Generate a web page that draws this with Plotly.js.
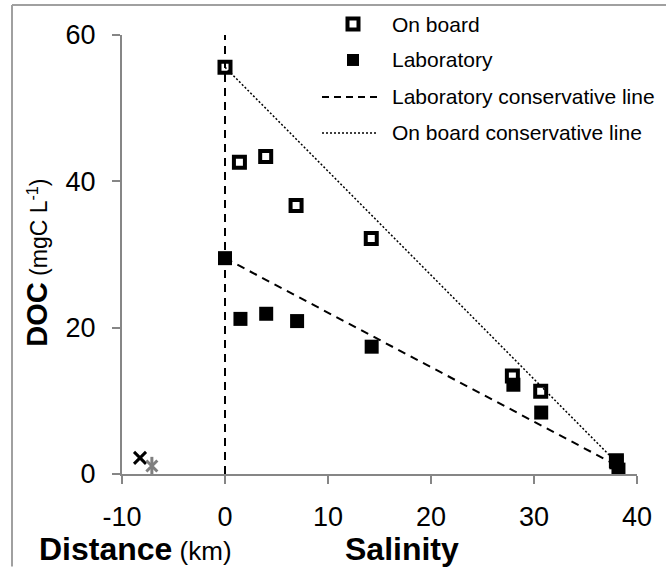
<!DOCTYPE html>
<html>
<head>
<meta charset="utf-8">
<script src="https://cdn.plot.ly/plotly-3.0.1.min.js"></script>
<style>
html,body{margin:0;padding:0;background:#fff;}
#chart{width:666px;height:567px;}
</style>
</head>
<body>
<div id="chart"></div>
<script>
// Data
var salinityOnBoard = [0, 1.4, 3.95, 6.9, 14.2, 27.9, 30.65, 38.0];
var docOnBoard      = [55.6, 42.6, 43.4, 36.7, 32.2, 13.4, 11.3, 1.8];
var salinityLab     = [0, 1.5, 4.0, 7.0, 14.24, 28.0, 30.7, 38.0, 38.2];
var docLab          = [29.5, 21.2, 21.9, 20.9, 17.4, 12.2, 8.4, 1.6, 0.6];
var labLineX = [0, 38];
var labLineY = [29.5, 1.2];
var onBoardLineX = [0, 38];
var onBoardLineY = [55.6, 1.6];
var zeroLineX = [0, 0];
var zeroLineY = [0, 60];
var distBlackX = [-8.25];
var distBlackY = [2.2];
var distGrayX = [-7.1];
var distGrayY = [1.1];
var xTicks = [-10, 0, 10, 20, 30, 40];
var yTicks = [0, 20, 40, 60];
var legendLabels = ["On board", "Laboratory", "Laboratory conservative line", "On board conservative line"];

var FONT = "Liberation Sans, Arial, sans-serif";
var AXIS_GRAY = "#868686";

var traces = [
  {x: zeroLineX, y: zeroLineY, mode: "lines", line: {color: "#000", width: 2, dash: "8px,6px"}, showlegend: false, hoverinfo: "skip"},
  {x: onBoardLineX, y: onBoardLineY, mode: "lines", line: {color: "#000", width: 1.5, dash: "2px,2px"}, showlegend: false},
  {x: labLineX, y: labLineY, mode: "lines", line: {color: "#000", width: 2, dash: "8px,6px"}, showlegend: false},
  {x: salinityOnBoard, y: docOnBoard, mode: "markers", marker: {symbol: "square-open", size: 11, color: "#000", line: {width: 4, color: "#000"}}, showlegend: false},
  {x: salinityLab, y: docLab, mode: "markers", marker: {symbol: "square", size: 14, color: "#000", line: {width: 0}}, showlegend: false},
  {x: distBlackX, y: distBlackY, mode: "markers", marker: {symbol: "x-thin-open", size: 12, color: "#000", line: {width: 3, color: "#000"}}, showlegend: false, cliponaxis: false},
  {x: distGrayX, y: distGrayY, mode: "markers", marker: {symbol: "x-thin-open", size: 11, color: "#7f7f7f", line: {width: 3, color: "#7f7f7f"}}, showlegend: false, cliponaxis: false},
  {x: distGrayX, y: distGrayY, mode: "markers", marker: {symbol: "line-ns-open", size: 13, color: "#7f7f7f", line: {width: 3, color: "#7f7f7f"}}, showlegend: false, cliponaxis: false}
];

// plot area in pixels: x 122..637, y 35..474.5
var L = 122, R = 29, T = 35, B = 92.5;
var PW = 666 - L - R, PH = 567 - T - B;
function px(x){ return (x - L) / PW; }
function py(y){ return (567 - B - y) / PH; }

var legRows = [24, 60, 97, 133];
var shapes = [
  // outer chart border (left + top)
  {type: "line", xref: "paper", yref: "paper", x0: px(12), x1: px(12), y0: py(5), y1: py(567), line: {color: "#a0a0a0", width: 2}},
  {type: "line", xref: "paper", yref: "paper", x0: px(12), x1: px(666), y0: py(5), y1: py(5), line: {color: "#a0a0a0", width: 2}},
  // legend symbols
  {type: "rect", xref: "paper", yref: "paper", x0: px(347.5), x1: px(358.5), y0: py(legRows[0]+5.5), y1: py(legRows[0]-5.5), line: {color: "#000", width: 4}, fillcolor: "#fff"},
  {type: "rect", xref: "paper", yref: "paper", x0: px(347), x1: px(359), y0: py(legRows[1]+6), y1: py(legRows[1]-6), line: {width: 0}, fillcolor: "#000"},
  {type: "line", xref: "paper", yref: "paper", x0: px(322), x1: px(377), y0: py(legRows[2]), y1: py(legRows[2]), line: {color: "#000", width: 2, dash: "7px,5px"}},
  {type: "line", xref: "paper", yref: "paper", x0: px(322), x1: px(377), y0: py(legRows[3]), y1: py(legRows[3]), line: {color: "#000", width: 1.5, dash: "2px,2px"}}
];

var annotations = [];
for (var i = 0; i < legendLabels.length; i++) {
  annotations.push({xref: "paper", yref: "paper", x: px(390), y: py(legRows[i]), xanchor: "left", yanchor: "middle", text: legendLabels[i], showarrow: false, font: {family: FONT, size: 21, color: "#000"}});
}
annotations.push({xref: "paper", yref: "paper", x: px(37), y: py(263), textangle: -90, xanchor: "center", yanchor: "middle", showarrow: false,
  text: "<b><span style='font-size:29px'>DOC</span></b> (mgC L<sup>-1</sup>)", font: {family: FONT, size: 23, color: "#000"}});
annotations.push({xref: "paper", yref: "paper", x: px(37), y: py(550), xanchor: "left", yanchor: "middle", showarrow: false,
  text: "<b><span style='font-size:32px'>Distance</span></b> (km)", font: {family: FONT, size: 26, color: "#000"}});
annotations.push({xref: "paper", yref: "paper", x: px(402), y: py(550), xanchor: "center", yanchor: "middle", showarrow: false,
  text: "<b>Salinity</b>", font: {family: FONT, size: 32, color: "#000"}});

var layout = {
  width: 666, height: 567,
  margin: {l: L, r: R, t: T, b: B, pad: 0},
  paper_bgcolor: "#fff", plot_bgcolor: "#fff",
  showlegend: false,
  font: {family: FONT, color: "#000"},
  xaxis: {range: [-10, 40], tickvals: xTicks, ticktext: xTicks.map(String), showgrid: false, zeroline: false,
    showline: true, linecolor: AXIS_GRAY, linewidth: 2, ticks: "outside", ticklen: 8, tickwidth: 2, tickcolor: AXIS_GRAY,
    tickfont: {family: FONT, size: 27, color: "#000"}, ticklabelstandoff: 10, anchor: "y", position: 0},
  yaxis: {range: [0, 60], tickvals: yTicks, ticktext: yTicks.map(String), showgrid: false, zeroline: false,
    showline: true, linecolor: AXIS_GRAY, linewidth: 2, ticks: "outside", ticklen: 8, tickwidth: 2, tickcolor: AXIS_GRAY,
    tickfont: {family: FONT, size: 27, color: "#000"}, ticklabelstandoff: 11},
  shapes: shapes,
  annotations: annotations
};

Plotly.newPlot("chart", traces, layout, {staticPlot: true, displayModeBar: false});
</script>
</body>
</html>
